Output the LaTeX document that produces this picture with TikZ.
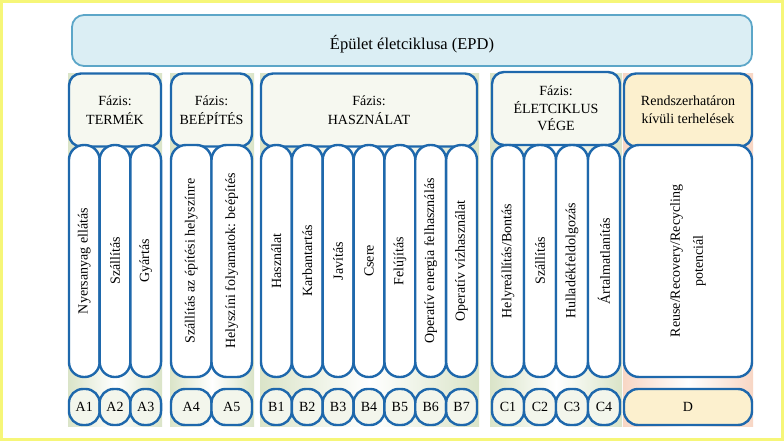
\documentclass[tikz,border=0pt]{standalone}
\usepackage{fontspec}
\setmainfont{Liberation Serif}
\usetikzlibrary{positioning}
\definecolor{frameyellow}{RGB}{246,246,120}
\definecolor{epdfill}{RGB}{219,238,244}
\definecolor{epdline}{RGB}{92,166,200}
\definecolor{darkline}{RGB}{30,104,172}
\definecolor{phasefill}{RGB}{246,248,240}
\definecolor{codefill}{RGB}{243,246,236}
\definecolor{outfill}{RGB}{252,240,206}
\definecolor{panelgreen}{RGB}{218,228,200}
\definecolor{panelpink}{RGB}{248,214,196}
\tikzset
{
    topnode/.style   = {rectangle, rounded corners=12pt, draw=epdline, line width=1.8pt, fill=epdfill, align=center, inner sep=0pt},
    phasenode/.style = {rectangle, rounded corners=12pt, draw=darkline, line width=2.4pt, fill=phasefill, align=center, inner sep=0pt, minimum height=73pt},
    stepnode/.style  = {rectangle, rounded corners=15pt, draw=darkline, line width=2.4pt, fill=white, align=center, inner sep=0pt, rotate=90, minimum width=232pt},
    codenode/.style  = {rectangle, rounded corners=14pt, draw=darkline, line width=2.4pt, fill=codefill, align=center, inner sep=0pt, minimum height=36pt},
    greenpanel/.style = {left color=panelgreen, right color=panelgreen, middle color=white},
    pinkpanel/.style  = {left color=panelpink, right color=panelpink, middle color=white}
}

\begin{document}
\begin{tikzpicture}[x=1pt, y=-1pt, font=\fontsize{14}{16}\selectfont]
\useasboundingbox (0,0) rectangle (784,441);
\draw[frameyellow, line width=3pt, fill=white] (1.5,1.5) rectangle (782.5,439.5);
\fill[greenpanel] (68,74) rectangle (162,426);
\fill[greenpanel] (170,74) rectangle (254,426);
\fill[greenpanel] (260,74) rectangle (479,426);
\fill[greenpanel] (490,74) rectangle (622,426);
\fill[pinkpanel] (623,74) rectangle (753,426);
\node[topnode, minimum width=680pt, minimum height=51pt] (epd) at (412,40.5) {};
\node[font=\fontsize{16.5}{19}\selectfont] (epdtext) at (412,44) {Épület életciklusa (EPD)};
\node[phasenode, minimum width=92pt] (termek) at (115,110) {Fázis:\\[3pt]TERMÉK};
\node[phasenode, minimum width=81pt] (beepites) at (211.5,110) {Fázis:\\[3pt]BEÉPÍTÉS};
\node[phasenode, minimum width=216pt] (hasznalat) at (369,110) {Fázis:\\[3pt]HASZNÁLAT};
\node[phasenode, minimum width=128pt] (eletvege) at (556,108.5) {Fázis:\\[1.5pt]ÉLETCIKLUS\\[1.5pt]VÉGE};
\node[phasenode, minimum width=128pt, fill=outfill] (rendszer) at (688,110) {Rendszerhatáron\\[2pt]kívüli terhelések};
\node[stepnode, minimum height=30.7pt] (a1) at (84.3,261) {Nyersanyag ellátás};
\node[stepnode, minimum height=30.7pt] (a2) at (115,261) {Szállítás};
\node[stepnode, minimum height=30.7pt] (a3) at (145.7,261) {Gyártás};
\node[stepnode, minimum height=40.5pt] (a4) at (191.25,261) {Szállítás az építési helyszínre};
\node[stepnode, minimum height=40.5pt] (a5) at (231.75,261) {Helyszíni folyamatok: beépítés};
\node[stepnode, minimum height=30.86pt] (b1) at (276.4,261) {Használat};
\node[stepnode, minimum height=30.86pt] (b2) at (307.3,261) {Karbantartás};
\node[stepnode, minimum height=30.86pt] (b3) at (338.1,261) {Javítás};
\node[stepnode, minimum height=30.86pt] (b4) at (369,261) {Csere};
\node[stepnode, minimum height=30.86pt] (b5) at (399.9,261) {Felújítás};
\node[stepnode, minimum height=30.86pt] (b6) at (430.7,261) {Operatív energia felhasználás};
\node[stepnode, minimum height=30.86pt] (b7) at (461.6,261) {Operatív vízhasználat};
\node[stepnode, minimum height=32pt] (c1) at (508,261) {Helyreállítás/Bontás};
\node[stepnode, minimum height=32pt] (c2) at (540,261) {Szállítás};
\node[stepnode, minimum height=32pt] (c3) at (572,261) {Hulladékfeldolgozás};
\node[stepnode, minimum height=32pt] (c4) at (604,261) {Ártalmatlanítás};
\node[stepnode, minimum height=128pt] (d) at (688,261) {Reuse/Recovery/Recycling\\[7pt]potenciál};
\node[codenode, minimum width=30.7pt] (a1k) at (84.3,407) {A1};
\node[codenode, minimum width=30.7pt] (a2k) at (115,407) {A2};
\node[codenode, minimum width=30.7pt] (a3k) at (145.7,407) {A3};
\node[codenode, minimum width=40.5pt] (a4k) at (191.25,407) {A4};
\node[codenode, minimum width=40.5pt] (a5k) at (231.75,407) {A5};
\node[codenode, minimum width=30.86pt] (b1k) at (276.4,407) {B1};
\node[codenode, minimum width=30.86pt] (b2k) at (307.3,407) {B2};
\node[codenode, minimum width=30.86pt] (b3k) at (338.1,407) {B3};
\node[codenode, minimum width=30.86pt] (b4k) at (369,407) {B4};
\node[codenode, minimum width=30.86pt] (b5k) at (399.9,407) {B5};
\node[codenode, minimum width=30.86pt] (b6k) at (430.7,407) {B6};
\node[codenode, minimum width=30.86pt] (b7k) at (461.6,407) {B7};
\node[codenode, minimum width=32pt] (c1k) at (508,407) {C1};
\node[codenode, minimum width=32pt] (c2k) at (540,407) {C2};
\node[codenode, minimum width=32pt] (c3k) at (572,407) {C3};
\node[codenode, minimum width=32pt] (c4k) at (604,407) {C4};
\node[codenode, minimum width=128pt, fill=outfill] (dk) at (688,407) {D};
\end{tikzpicture}
\end{document}
